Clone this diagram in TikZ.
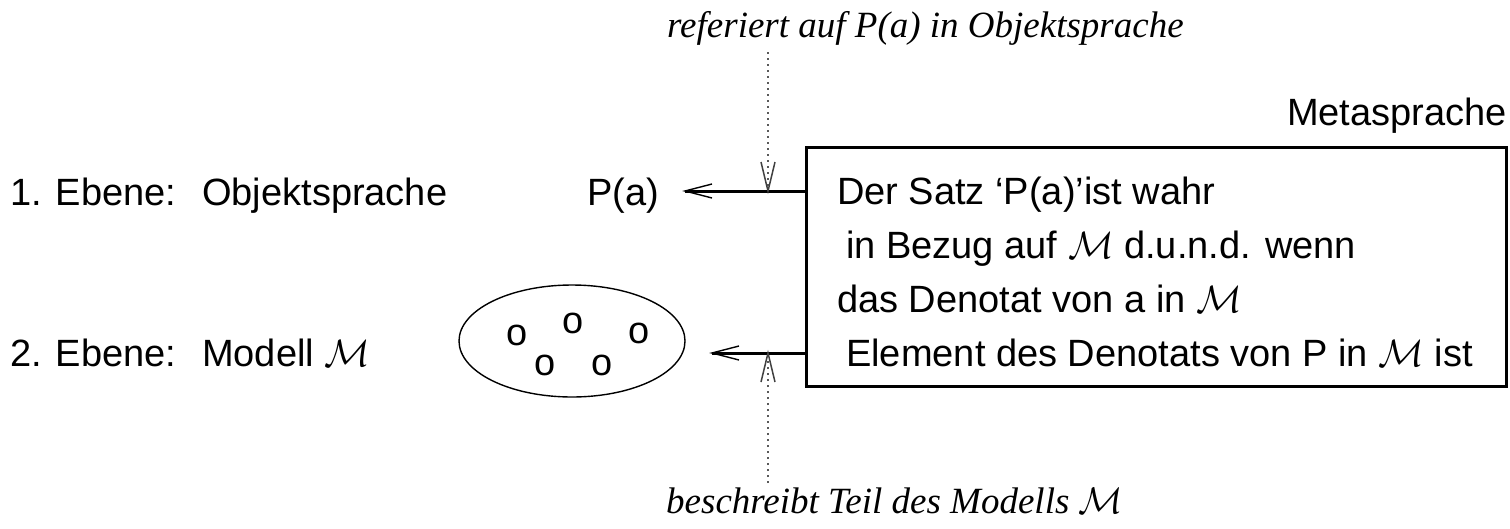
\documentclass[tikz,border=0pt]{standalone}
\usepackage{fontspec}
\setmainfont{Liberation Serif}
\setsansfont{Liberation Sans}
% scalable calligraphic letters for large text
\DeclareFontShape{OMS}{cmsy}{m}{n}{<->cmsy10}{}
\DeclareFontShape{OML}{cmm}{m}{it}{<->cmmi10}{}
\usetikzlibrary{calc,shapes.geometric}
\tikzset{
  txt/.style={inner sep=0pt, anchor=base west, font=\sffamily\fontsize{38}{45}\selectfont},
  note/.style={inner sep=0pt, anchor=base west, font=\rmfamily\itshape\fontsize{37}{44}\selectfont},
  elem/.style={inner sep=0pt, font=\sffamily\fontsize{38}{45}\selectfont},
  metabox/.style={draw, line width=3pt, inner sep=0pt},
  shaft/.style={line width=3pt},
  barb/.style={line width=1.4pt, line join=miter},
  hint/.style={draw=black!65, line width=1.6pt, dash pattern=on 1.6pt off 4.4pt},
  hintbarb/.style={draw=black!75, line width=1.5pt},
  model/.style={draw, line width=1.4pt, ellipse, inner sep=0pt}
}
\begin{document}
\begin{tikzpicture}[x=1pt, y=-1pt]
  \useasboundingbox (0,0) rectangle (1510,528);

  % annotations above and below
  \node[note] (ref)  at (667,37)  {referiert auf P(a) in Objektsprache};
  \node[note] (desc) at (666,513) {beschreibt Teil des Modells $\mathcal{M}$};

  % level labels
  \node[txt] (l1) at (10,205)  {1. Ebene:};
  \node[txt] (o1) at (202,205) {Objektsprache};
  \node[txt] (pa) at (587,205) {P(a)};
  \node[txt] (l2) at (10,366)  {2. Ebene:};
  \node[txt] (o2) at (202,366) {Modell $\mathcal{M}$};

  % the model: an ellipse with its elements
  \node[model, minimum width=226, minimum height=112] (mod) at (572,341) {};
  \node[elem] (e1) at (517,335) {o};
  \node[elem] (e2) at (573,323) {o};
  \node[elem] (e3) at (639,333) {o};
  \node[elem] (e4) at (545,365) {o};
  \node[elem] (e5) at (602,365) {o};

  % metalanguage box
  \node[txt] (meta) at (1287,125) {Metasprache};
  \node[metabox, minimum width=700, minimum height=239] (box) at (1156,266.5) {};
  \node[txt] (s1) at (837,204) {Der Satz ‘P(a)’ist wahr};
  \node[txt] (s2) at (846,258) {in Bezug auf $\mathcal{M}$ d.u.n.d. wenn};
  \node[txt] (s3) at (837,312) {das Denotat von a in $\mathcal{M}$};
  \node[txt] (s4) at (846,366) {Element des Denotats von P in $\mathcal{M}$ ist};

  % arrow tips and ends of the dotted hints
  \coordinate (tipA) at (685,191);
  \coordinate (tipB) at (712,353);
  \coordinate (hA) at (768,191);
  \coordinate (hB) at (768,353);
  \coordinate (refEnd)  at (768,52);
  \coordinate (descEnd) at (768,483);

  % arrows from the box to the object language and to the model
  \draw[shaft] (box.west |- tipA) -- (tipA);
  \draw[barb] ($(tipA)+(27,-7)$) -- (tipA) -- ($(tipA)+(27,7)$);
  \draw[shaft] (box.west |- tipB) -- (tipB);
  \draw[barb] ($(tipB)+(27,-7)$) -- (tipB) -- ($(tipB)+(27,7)$);

  % dotted hints
  \draw[hint] (refEnd) -- (hA);
  \draw[hintbarb] ($(hA)+(-7,-29)$) -- (hA) -- ($(hA)+(7,-29)$);
  \draw[hint] (descEnd) -- (hB);
  \draw[hintbarb] ($(hB)+(-7,29)$) -- (hB) -- ($(hB)+(7,29)$);
\end{tikzpicture}
\end{document}
